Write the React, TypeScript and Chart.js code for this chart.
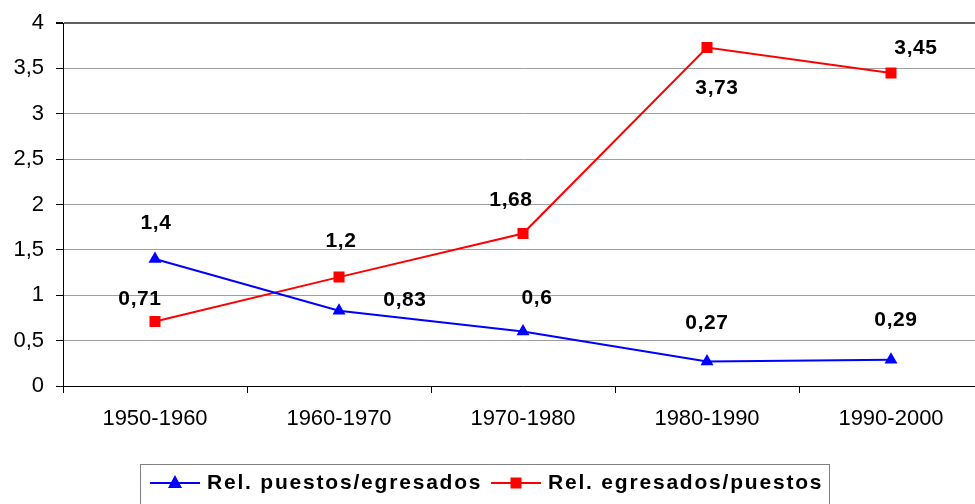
import React, { useEffect, useRef } from "react";
import { Chart, registerables } from "chart.js";

Chart.register(...registerables);

const categories = ["1950-1960", "1960-1970", "1970-1980", "1980-1990", "1990-2000"];
const puestosEgresados = [1.4, 0.83, 0.6, 0.27, 0.29];
const egresadosPuestos = [0.71, 1.2, 1.68, 3.73, 3.45];
const seriesNames = ["Rel. puestos/egresados", "Rel. egresados/puestos"];

// label offsets (styling) relative to points
const blueLabelOffsets = [[1, -36], [66, -10], [14, -33], [0, -38], [5, -39]];
const redLabelOffsets = [[-15, -22], [2, -36], [-12, -33], [10, 41], [25, -25]];

const FONT = "Arial, 'Liberation Sans', sans-serif";
const fmt = (v: number) => String(v).replace(".", ",");

const labelPlugin = {
  id: "dataLabels",
  afterDatasetsDraw(chart: any) {
    const ctx = chart.ctx;
    ctx.save();
    ctx.font = `bold 21px ${FONT}`;
    (ctx as any).letterSpacing = "0.6px";
    ctx.fillStyle = "#000";
    ctx.textAlign = "center";
    ctx.textBaseline = "middle";
    const offs = [blueLabelOffsets, redLabelOffsets];
    chart.data.datasets.forEach((ds: any, di: number) => {
      const meta = chart.getDatasetMeta(di);
      meta.data.forEach((pt: any, i: number) => {
        const [dx, dy] = offs[di][i];
        ctx.fillText(fmt(ds.data[i]), pt.x + dx, pt.y + dy);
      });
    });
    (ctx as any).letterSpacing = "0px";
    ctx.restore();
  },
};

const legendPlugin = {
  id: "boxLegend",
  afterDraw(chart: any) {
    const ctx = chart.ctx;
    ctx.save();
    ctx.strokeStyle = "#808080";
    ctx.lineWidth = 1;
    ctx.strokeRect(140.5, 464.5, 689, 60);
    const cy = 483;
    const items = [
      { x0: 150, x1: 200, color: "#0000FF", shape: "tri", tx: 207 },
      { x0: 491, x1: 541, color: "#FF0000", shape: "sq", tx: 548 },
    ];
    items.forEach((it, i) => {
      ctx.strokeStyle = it.color;
      ctx.lineWidth = 2;
      ctx.beginPath();
      ctx.moveTo(it.x0, cy);
      ctx.lineTo(it.x1, cy);
      ctx.stroke();
      const mx = (it.x0 + it.x1) / 2;
      ctx.fillStyle = it.color;
      ctx.beginPath();
      if (it.shape === "tri") {
        ctx.moveTo(mx, cy - 8);
        ctx.lineTo(mx - 7, cy + 5);
        ctx.lineTo(mx + 7, cy + 5);
        ctx.closePath();
      } else {
        ctx.rect(mx - 5.5, cy - 5.5, 11, 11);
      }
      ctx.fill();
      ctx.fillStyle = "#000";
      ctx.font = `bold 21px ${FONT}`;
      (ctx as any).letterSpacing = "1.8px";
      ctx.textAlign = "left";
      ctx.textBaseline = "middle";
      ctx.fillText(seriesNames[i], it.tx, cy);
      (ctx as any).letterSpacing = "0px";
    });
    ctx.restore();
  },
};

export default function App() {
  const ref = useRef<HTMLCanvasElement>(null);
  useEffect(() => {
    if (!ref.current) return;
    const chart = new Chart(ref.current, {
      type: "line",
      data: {
        labels: categories,
        datasets: [
          {
            label: seriesNames[0],
            data: puestosEgresados,
            borderColor: "#0000FF",
            backgroundColor: "#0000FF",
            borderWidth: 2,
            pointStyle: "triangle",
            pointRadius: 7.5,
            pointBorderWidth: 0,
            tension: 0,
          },
          {
            label: seriesNames[1],
            data: egresadosPuestos,
            borderColor: "#FF0000",
            backgroundColor: "#FF0000",
            borderWidth: 2,
            pointStyle: "rect",
            pointRadius: 7.8,
            pointBorderWidth: 0,
            tension: 0,
          },
        ],
      },
      options: {
        responsive: false,
        animation: false,
        layout: { autoPadding: false, padding: { top: 23, right: 7, left: 0, bottom: 0 } },
        plugins: { legend: { display: false }, tooltip: { enabled: false } },
        scales: {
          x: {
            offset: true,
            grid: { offset: true, drawOnChartArea: false, tickLength: 7, tickColor: "#000" },
            border: { display: true, color: "#000", width: 1 },
            ticks: { color: "#000", font: { family: FONT, size: 22 }, padding: 13, maxRotation: 0 },
            afterFit: (s: any) => { s.height = 118; s.paddingLeft = 0; s.paddingRight = 0; },
          },
          y: {
            min: 0,
            max: 4,
            grid: {
              color: (c: any) => (c.tick && c.tick.value === 4 ? "#606060" : "#a0a0a0"),
              lineWidth: (c: any) => (c.tick && c.tick.value === 4 ? 2 : 1),
              tickLength: 7,
              tickColor: "#000",
            },
            border: { display: true, color: "#000", width: 1 },
            ticks: {
              stepSize: 0.5,
              color: "#000",
              font: { family: FONT, size: 22 },
              padding: 12,
              callback: (v: any) => fmt(Number(v)),
            },
            afterFit: (s: any) => { s.width = 63; s.paddingTop = 0; s.paddingBottom = 0; },
          },
        },
      },
      plugins: [labelPlugin, legendPlugin],
    });
    return () => chart.destroy();
  }, []);
  return (
    <div style={{ position: "absolute", left: 0, top: 0, width: 975, height: 504, overflow: "hidden", background: "#fff" }}>
      <canvas ref={ref} width={990} height={504} style={{ display: "block" }} />
    </div>
  );
}
